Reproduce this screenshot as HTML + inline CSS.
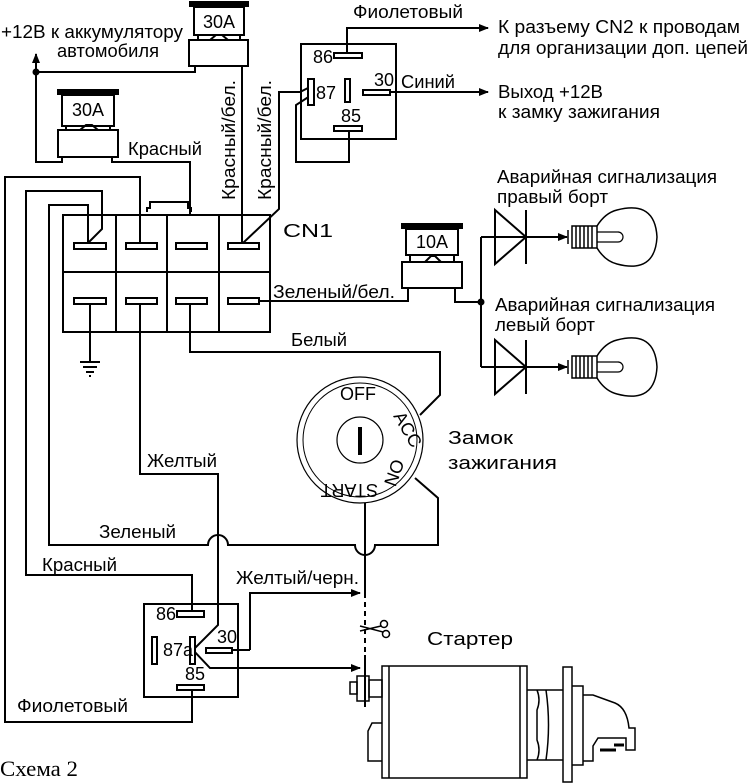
<!DOCTYPE html>
<html><head><meta charset="utf-8"><style>
html,body{margin:0;padding:0;background:#fff}
svg{display:block}
text{font-family:"Liberation Sans",sans-serif;font-size:18px;fill:#000}
</style></head><body>
<svg width="750" height="784" viewBox="0 0 750 784" xmlns="http://www.w3.org/2000/svg">
<defs>
<marker id="ar" markerWidth="10" markerHeight="8" refX="9" refY="4" orient="auto" markerUnits="userSpaceOnUse"><path d="M0,0 L10,4 L0,8z" fill="#000"/></marker>
</defs>
<g fill="none" stroke="#000" stroke-width="2">
<rect x="190" y="2" width="58" height="4" fill="#000"/>
<rect x="194" y="7" width="50" height="28"/>
<path d="M198,35 v5 M240,35 v5 M210,40 l6,-5 h6 l6,5"/>
<rect x="189" y="40" width="59" height="26"/>
<path d="M195,66 v6 H36 v90 h26 v-4"/>
<path d="M36,72 V54" marker-end="url(#ar)"/>
<rect x="58" y="90" width="60" height="4" fill="#000"/>
<rect x="62" y="95" width="52" height="31"/>
<path d="M66,126 v4 M110,126 v4 M80,130 l6,-5 h6 l6,5"/>
<rect x="58" y="130" width="60" height="27"/>
<path d="M112,157 v5 H190 V215"/>
<path d="M242,66 V245"/>
<rect x="63" y="215" width="207" height="117"/>
<path d="M116,215 V332 M167,215 V332 M219,215 V332 M63,272 H270"/>
<path d="M147,212 v-4 h3 v-6 h38 v6 h3 v4"/>
<g fill="#fff">
<rect x="74" y="243" width="32" height="6"/><rect x="126" y="243" width="31" height="6"/><rect x="176" y="243" width="31" height="6"/><rect x="228" y="243" width="31" height="6"/>
<rect x="74" y="298" width="32" height="6"/><rect x="126" y="298" width="31" height="6"/><rect x="176" y="298" width="31" height="6"/><rect x="228" y="298" width="31" height="6"/>
</g>
<path d="M88,243 V205 H49 V545 H208 a10,10 0 0 1 20,0 H355 a10,10 0 0 0 20,0 H438 V498 L415,478"/>
<path d="M88,243 L102,229 V191 H26 V575 H192 V611"/>
<path d="M140,243 V177 H5 V722 H192 V690"/>
<path d="M243,243 L279,209 V92 H300 L308,88"/>
<path d="M310,96 L296,105 V162 H349 V131"/>
<path d="M90,304 V362 M80,362 h20 M83,367 h14 M86,372 h8 M89,376 h2"/>
<path d="M140,304 V474 H218 V625 L193,650 L210,668 H360" marker-end="url(#ar)"/>
<path d="M190,304 V352 H440 V395 L420,415"/>
<path d="M259,301 H408 V288"/>
<rect x="301" y="44" width="95" height="95"/>
<rect x="334" y="53" width="28" height="5" fill="#fff"/>
<rect x="308" y="79" width="6" height="26" fill="#fff"/>
<rect x="345" y="79" width="5" height="23" fill="#fff"/>
<rect x="363" y="90" width="27" height="5" fill="#fff"/>
<rect x="334" y="126" width="28" height="5" fill="#fff"/>
<path d="M347,53 V28 H488" marker-end="url(#ar)"/>
<path d="M390,92 H488" marker-end="url(#ar)"/>
<rect x="402" y="224" width="60" height="4" fill="#000"/>
<rect x="406" y="229" width="52" height="26"/>
<path d="M410,255 v7 M454,255 v7 M425,262 l6,-6 h4 l6,6"/>
<rect x="402" y="262" width="60" height="26"/>
<path d="M455,288 V302 H481 M481,237 V367"/>
<path d="M481,237 H567" marker-end="url(#ar)"/>
<path d="M495,210 V264 L526,237 Z M526,210 V264"/>
<path d="M481,367 H567" marker-end="url(#ar)"/>
<path d="M495,340 V394 L526,367 Z M526,340 V394"/>
<g id="b1">
<path d="M568,230 v14 M572,226 h25 v22 h-25 z M576,226 v22 M580,226 v22 M584,226 v22 M588,226 v22 M592,226 v22" stroke-width="1.5"/>
<path d="M597,226 Q605,213 617,210 Q655,200 657,237 Q655,274 617,264 Q605,261 597,248" stroke-width="1.5"/>
<path d="M597,232 h22 M597,242 h22 M618,232 a5,5 0 1 1 0,10 a5,5 0 1 0 0,-10" stroke-width="1.2"/>
</g>
<use href="#b1" y="130"/>
<circle cx="360" cy="440" r="63" stroke-width="1.2"/>
<circle cx="360" cy="440" r="57" stroke-width="1"/>
<circle cx="360" cy="440" r="23" stroke-width="1.2"/>
<path d="M365,503 V593"/>
<path d="M365,593 V707" stroke-dasharray="5,4"/>
<path d="M250,650 V593 H360" marker-end="url(#ar)"/>
<path d="M365,655 v52" />
<rect x="144" y="604" width="94" height="93"/>
<rect x="177" y="611" width="27" height="6" fill="#fff"/>
<rect x="152" y="637" width="5" height="27" fill="#fff"/>
<rect x="190" y="637" width="5" height="27" fill="#fff"/>
<rect x="206" y="648" width="26" height="5" fill="#fff"/>
<rect x="177" y="685" width="27" height="5" fill="#fff"/>
<path d="M218,474 V625" />
<path d="M232,650 H250"/>
<g stroke-width="1.5">
<rect x="382" y="666" width="145" height="112"/>
<path d="M389,666 V778 M520,666 V778"/>
<rect x="350" y="682" width="7" height="12"/><rect x="357" y="676" width="12" height="25"/><rect x="369" y="680" width="13" height="17"/>
<path d="M382,723 h-10 l-4,8 v30 h14"/>
<path d="M527,690 h10 q4,10 0,20 v30 q4,10 0,20 h-10 M537,690 h26 M537,760 h26 M546,690 q5,35 0,70"/>
<rect x="563" y="667" width="9" height="115"/>
<path d="M572,686 h11 v79 h-11 M583,695 h10 l22,8 q12,5 14,25 l6,0 v22 h-9 v-12 h-28 l-5,8 v15 h-10"/>
<path d="M600,750 h16 M614,745 h10" stroke-width="3"/>
</g>
<g stroke-width="1.5"><circle cx="384" cy="624" r="3.5"/><circle cx="386" cy="634" r="3.5"/><path d="M360,631 L381,626 M360,626 L383,632"/></g>
</g>
<rect x="358" y="427" width="4" height="28" fill="#000"/>
<circle cx="36" cy="72" r="3.5"/><circle cx="481" cy="302" r="3.5"/>
<text x="1" y="38" textLength="182" lengthAdjust="spacingAndGlyphs">+12В к аккумулятору</text>
<text x="57" y="57" textLength="102" lengthAdjust="spacingAndGlyphs">автомобиля</text>
<text x="219" y="28" text-anchor="middle" font-size="18">30А</text>
<text x="88" y="116" text-anchor="middle" font-size="18">30А</text>
<text x="432" y="248" text-anchor="middle" font-size="18">10А</text>
<text x="128" y="155" textLength="74" lengthAdjust="spacingAndGlyphs">Красный</text>
<text transform="translate(235,200) rotate(-90)" textLength="120" lengthAdjust="spacingAndGlyphs">Красный/бел.</text>
<text transform="translate(271,200) rotate(-90)" textLength="120" lengthAdjust="spacingAndGlyphs">Красный/бел.</text>
<text x="353" y="18" textLength="110" lengthAdjust="spacingAndGlyphs">Фиолетовый</text>
<text x="313" y="63" font-size="15">86</text>
<text x="316" y="99" font-size="15">87</text>
<text x="374" y="86" font-size="15">30</text>
<text x="341" y="122" font-size="15">85</text>
<text x="401" y="88" textLength="54" lengthAdjust="spacingAndGlyphs">Синий</text>
<text x="498" y="33" textLength="242" lengthAdjust="spacingAndGlyphs">К разъему CN2 к проводам</text>
<text x="498" y="54" textLength="250" lengthAdjust="spacingAndGlyphs">для организации доп. цепей</text>
<text x="498" y="98" textLength="105" lengthAdjust="spacingAndGlyphs">Выход +12В</text>
<text x="498" y="118" textLength="162" lengthAdjust="spacingAndGlyphs">к замку зажигания</text>
<text x="283" y="237" font-size="30" textLength="50" lengthAdjust="spacingAndGlyphs">CN1</text>
<text x="497" y="183" textLength="220" lengthAdjust="spacingAndGlyphs">Аварийная сигнализация</text>
<text x="497" y="203" textLength="111" lengthAdjust="spacingAndGlyphs">правый борт</text>
<text x="495" y="311" textLength="220" lengthAdjust="spacingAndGlyphs">Аварийная сигнализация</text>
<text x="495" y="331" textLength="100" lengthAdjust="spacingAndGlyphs">левый борт</text>
<text x="273" y="298" textLength="122" lengthAdjust="spacingAndGlyphs">Зеленый/бел.</text>
<text x="291" y="346" textLength="56" lengthAdjust="spacingAndGlyphs">Белый</text>
<text x="448" y="444" font-size="21" textLength="65" lengthAdjust="spacingAndGlyphs">Замок</text>
<text x="448" y="469" font-size="21" textLength="109" lengthAdjust="spacingAndGlyphs">зажигания</text>
<text x="358" y="400" text-anchor="middle" font-size="13">OFF</text>
<text transform="translate(393,416) rotate(60)" font-size="12">ACC</text>
<text transform="translate(393,458) rotate(110)" font-size="12">ON</text>
<text transform="translate(378,484) rotate(180)" font-size="13">START</text>
<text x="147" y="467" textLength="70" lengthAdjust="spacingAndGlyphs">Желтый</text>
<text x="99" y="538" textLength="77" lengthAdjust="spacingAndGlyphs">Зеленый</text>
<text x="42" y="571" textLength="75" lengthAdjust="spacingAndGlyphs">Красный</text>
<text x="236" y="584" textLength="123" lengthAdjust="spacingAndGlyphs">Желтый/черн.</text>
<text x="156" y="620" font-size="15">86</text>
<text x="163" y="656" font-size="15">87а</text>
<text x="217" y="643" font-size="15">30</text>
<text x="185" y="680" font-size="15">85</text>
<text x="17" y="712" textLength="111" lengthAdjust="spacingAndGlyphs">Фиолетовый</text>
<text x="427" y="645" font-size="21" textLength="86" lengthAdjust="spacingAndGlyphs">Стартер</text>
<text x="0" y="776" textLength="78" lengthAdjust="spacingAndGlyphs" style="font-family:'Liberation Serif',serif;font-size:22px">Схема 2</text>
</svg>
</body></html>
